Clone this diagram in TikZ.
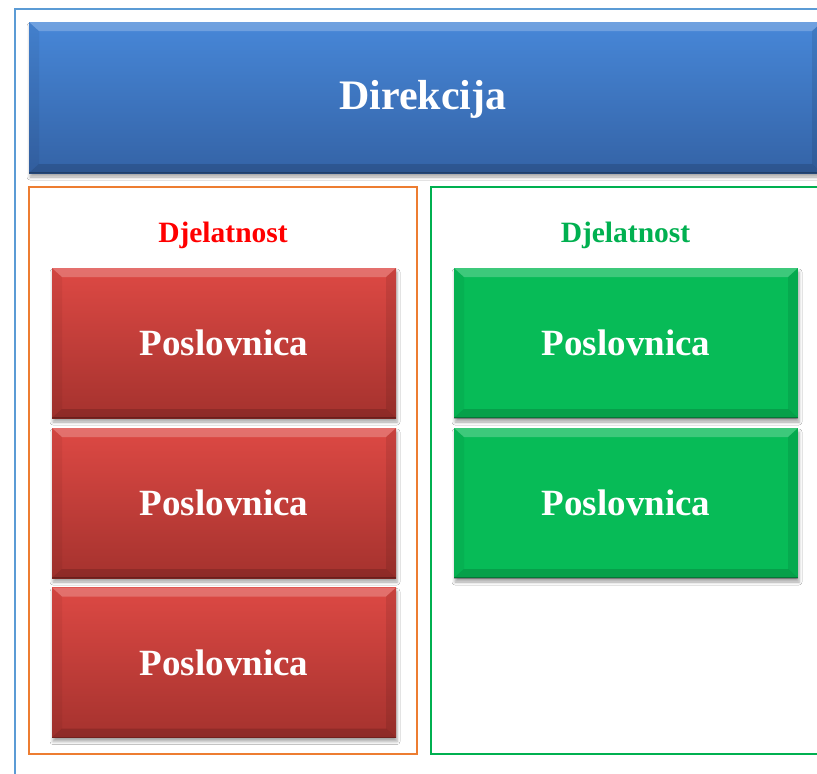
\documentclass[tikz,border=0pt]{standalone}
\usepackage{fontspec}
\setmainfont{Liberation Serif}
\usetikzlibrary{shadows.blur}
\definecolor{frameblue}{HTML}{5B9BD5}
\definecolor{frameorange}{HTML}{ED7D31}
\definecolor{framegreen}{HTML}{00B050}
\definecolor{bluetop}{HTML}{4787D8}
\definecolor{bluebot}{HTML}{3463A6}
\definecolor{redtop}{HTML}{DD4944}
\definecolor{redbot}{HTML}{A5322E}
\definecolor{greenfill}{HTML}{07BB57}
\definecolor{labelred}{HTML}{FF0000}
\definecolor{labelgreen}{HTML}{00B050}
\tikzset{
  bevel/.style={
    path picture={
      \fill[white,opacity=0.22] (path picture bounding box.north west) -- (path picture bounding box.north east)
        -- ([shift={(-10pt,-9pt)}]path picture bounding box.north east) -- ([shift={(10pt,-9pt)}]path picture bounding box.north west) -- cycle;
      \fill[black,opacity=0.14] (path picture bounding box.south west) -- (path picture bounding box.south east)
        -- ([shift={(-10pt,9pt)}]path picture bounding box.south east) -- ([shift={(10pt,9pt)}]path picture bounding box.south west) -- cycle;
      \fill[black,opacity=0.05] (path picture bounding box.south west) -- (path picture bounding box.north west)
        -- ([shift={(10pt,-9pt)}]path picture bounding box.north west) -- ([shift={(10pt,9pt)}]path picture bounding box.south west) -- cycle;
      \fill[black,opacity=0.09] (path picture bounding box.south east) -- (path picture bounding box.north east)
        -- ([shift={(-10pt,-9pt)}]path picture bounding box.north east) -- ([shift={(-10pt,9pt)}]path picture bounding box.south east) -- cycle;
      \draw[black,opacity=0.25,line width=1.5pt] (path picture bounding box.south west) -- (path picture bounding box.south east);
    }},
  boxshadow/.style={blur shadow={shadow xshift=1pt, shadow yshift=-4pt, shadow blur radius=3pt, shadow opacity=35}},
  bluebox/.style={rectangle, inner sep=0pt, minimum width=793pt, minimum height=151pt,
    top color=bluetop, bottom color=bluebot, boxshadow, bevel},
  titletext/.style={text=white, font=\bfseries\fontsize{42}{46}\selectfont, inner sep=0pt},
  redbox/.style={rectangle, inner sep=0pt, minimum width=344pt, minimum height=150pt,
    top color=redtop, bottom color=redbot, boxshadow, bevel,
    text=white, font=\bfseries\fontsize{37}{40}\selectfont},
  greenbox/.style={rectangle, inner sep=0pt, minimum width=344pt, minimum height=150pt,
    fill=greenfill, boxshadow, bevel,
    text=white, font=\bfseries\fontsize{37}{40}\selectfont},
  label/.style={font=\bfseries\fontsize{29.5}{32}\selectfont, inner sep=0pt},
  frame/.style={line width=2pt},
}
\begin{document}
\begin{tikzpicture}[x=1pt,y=-1pt]
\useasboundingbox (0,0) rectangle (817,774);
\clip (0,0) rectangle (817,774);
\fill[white] (0,0) rectangle (817,774);
% outer frame
\draw[frame,frameblue] (15,9) rectangle (840,800);
% top box
\node[bluebox] (dir) at (425.5,97.5) {};
\node[titletext] (dirt) at (423,99.5) {Direkcija};
% group frames
\draw[frame,frameorange] (29,187) rectangle (417,754);
\draw[frame,framegreen] (431,187) rectangle (840,754);
% labels
\node[label,text=labelred] (l1) at (223,235) {Djelatnost};
\node[label,text=labelgreen] (l2) at (625.5,235) {Djelatnost};
% red boxes
\node[redbox] (r1) at (224,343) {Poslovnica};
\node[redbox] (r2) at (224,503) {Poslovnica};
\node[redbox] (r3) at (224,662.5) {Poslovnica};
% green boxes
\node[greenbox] (g1) at (626,343) {Poslovnica};
\node[greenbox] (g2) at (626,503) {Poslovnica};
\end{tikzpicture}
\end{document}
